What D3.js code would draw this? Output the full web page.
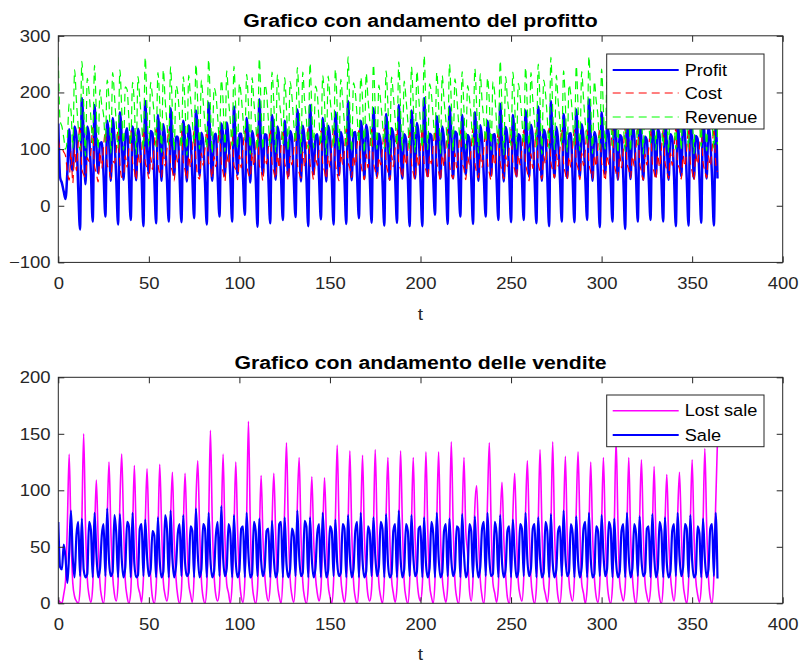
<!DOCTYPE html>
<html>
<head>
<meta charset="utf-8">
<script src="https://cdn.jsdelivr.net/npm/d3@7"></script>
<style>
  body { margin: 0; background: #fff; }
  svg { display: block; font-family: "Liberation Sans", Arial, sans-serif; }
</style>
</head>
<body>
<svg id="chart" width="802" height="664"></svg>
<script>
// days 0..364, one value per day (one week per row)
const days = d3.range(0, 365);

const profit = [
  145, 50, 40, 25, 12, 60, 135,
  73, 62, 140, 123, 30, -42, 190,
  125, 38, 140, 122, 60, -28, 178,
  107, 58, 110, 112, 55, -19, 150,
  121, 44, 155, 120, 47, -33, 165,
  122, 46, 122, 137, 50, -25, 140,
  116, 45, 136, 116, 52, -36, 185,
  104, 57, 132, 128, 50, -31, 160,
  125, 44, 144, 116, 46, -28, 172,
  107, 54, 122, 122, 50, -29, 150,
  113, 43, 142, 122, 53, -22, 168,
  128, 53, 129, 113, 42, -33, 182,
  106, 44, 121, 127, 51, -19, 145,
  125, 53, 147, 115, 50, -28, 175,
  105, 55, 127, 127, 50, -16, 155,
  121, 41, 132, 113, 49, -37, 188,
  111, 55, 126, 125, 49, -31, 160,
  121, 46, 140, 121, 51, -25, 150,
  106, 52, 132, 121, 49, -20, 170,
  121, 43, 141, 116, 51, -36, 178,
  104, 56, 121, 126, 49, -24, 155,
  122, 43, 141, 123, 51, -33, 165,
  118, 54, 130, 113, 48, -32, 185,
  104, 45, 128, 130, 51, -22, 150,
  127, 47, 143, 122, 51, -30, 172,
  110, 52, 127, 112, 46, -35, 162,
  118, 46, 137, 126, 51, -30, 178,
  105, 48, 126, 117, 51, -36, 168,
  123, 48, 146, 124, 45, -36, 190,
  111, 52, 127, 124, 51, -16, 158,
  116, 48, 140, 116, 51, -32, 175,
  126, 48, 131, 127, 49, -19, 160,
  103, 55, 125, 117, 51, -32, 165,
  116, 44, 142, 117, 49, -19, 150,
  126, 53, 125, 126, 48, -25, 180,
  109, 43, 139, 120, 53, -29, 160,
  115, 52, 126, 121, 51, -25, 168,
  114, 51, 143, 121, 48, -31, 175,
  124, 44, 134, 125, 52, -36, 185,
  107, 50, 139, 114, 49, -28, 162,
  121, 49, 127, 128, 51, -29, 170,
  109, 51, 144, 119, 48, -25, 188,
  121, 44, 130, 117, 53, -38, 165,
  107, 56, 140, 125, 50, -28, 178,
  125, 46, 125, 121, 49, -41, 160,
  108, 47, 144, 125, 52, -28, 172,
  116, 46, 122, 115, 50, -25, 155,
  121, 52, 136, 125, 49, -28, 168,
  111, 46, 126, 118, 52, -36, 158,
  105, 52, 145, 127, 49, -35, 175,
  122, 48, 123, 118, 51, -30, 162,
  114, 48, 140, 117, 49, -35, 150,
  48
];

const cost = [
  117, 100, 100, 95, 88, 60, 45,
  95, 40, 100, 62, 110, 140, 65,
  55, 50, 85, 78, 95, 138, 70,
  58, 42, 95, 66, 105, 131, 72,
  64, 48, 80, 75, 98, 135, 75,
  50, 52, 88, 68, 102, 133, 78,
  62, 45, 92, 72, 96, 136, 77,
  66, 48, 86, 64, 108, 135, 75,
  57, 50, 96, 70, 100, 135, 73,
  61, 44, 90, 76, 104, 132, 78,
  63, 46, 88, 68, 97, 132, 82,
  52, 47, 93, 71, 101, 134, 76,
  68, 49, 87, 69, 106, 133, 77,
  59, 43, 91, 73, 99, 134, 71,
  64, 46, 89, 67, 103, 132, 77,
  56, 50, 94, 70, 98, 136, 72,
  62, 44, 88, 74, 102, 135, 76,
  60, 48, 92, 66, 105, 134, 76,
  65, 45, 87, 72, 97, 132, 74,
  58, 49, 95, 69, 101, 137, 74,
  63, 46, 90, 71, 100, 132, 75,
  61, 47, 88, 68, 104, 136, 76,
  57, 44, 93, 73, 96, 136, 78,
  66, 50, 89, 70, 107, 133, 77,
  59, 46, 91, 67, 99, 135, 77,
  62, 48, 86, 72, 101, 136, 76,
  60, 45, 90, 69, 102, 136, 76,
  64, 49, 94, 71, 98, 136, 77,
  58, 46, 92, 68, 100, 138, 75,
  63, 47, 88, 74, 105, 133, 78,
  61, 44, 90, 70, 100, 135, 75,
  56, 48, 93, 67, 99, 133, 77,
  65, 46, 87, 73, 103, 136, 77,
  60, 49, 91, 68, 101, 132, 76,
  58, 45, 94, 71, 98, 134, 76,
  62, 47, 89, 69, 104, 135, 76,
  64, 48, 90, 72, 101, 133, 76,
  59, 44, 92, 66, 99, 135, 75,
  61, 47, 88, 74, 103, 137, 77,
  63, 49, 91, 70, 100, 135, 76,
  57, 45, 87, 68, 102, 134, 77,
  66, 46, 93, 71, 98, 135, 76,
  60, 48, 90, 69, 105, 137, 76,
  62, 44, 89, 73, 101, 134, 75,
  58, 47, 92, 67, 99, 137, 76,
  64, 49, 88, 70, 102, 135, 76,
  61, 45, 91, 72, 100, 134, 76,
  59, 46, 90, 68, 98, 134, 77,
  63, 48, 93, 71, 104, 136, 75,
  65, 47, 89, 69, 100, 137, 77,
  60, 44, 92, 73, 102, 135, 77,
  62, 49, 88, 70, 99, 136, 76,
  60
];

const revenue = [
  262, 150, 140, 120, 100, 120, 180,
  168, 102, 240, 185, 140, 98, 255,
  180, 88, 225, 200, 155, 110, 248,
  165, 100, 205, 178, 160, 112, 222,
  185, 92, 235, 195, 145, 102, 240,
  172, 98, 210, 205, 152, 108, 218,
  178, 90, 228, 188, 148, 100, 262,
  170, 105, 218, 192, 158, 104, 235,
  182, 94, 240, 186, 146, 107, 245,
  168, 98, 212, 198, 154, 103, 228,
  176, 89, 230, 190, 150, 110, 250,
  180, 100, 222, 184, 143, 101, 258,
  174, 93, 208, 196, 157, 114, 222,
  184, 96, 238, 188, 149, 106, 246,
  169, 101, 216, 194, 153, 116, 232,
  177, 91, 226, 183, 147, 99, 260,
  173, 99, 214, 199, 151, 104, 236,
  181, 94, 232, 187, 156, 109, 226,
  171, 97, 219, 193, 146, 112, 244,
  179, 92, 236, 185, 152, 101, 252,
  167, 102, 211, 197, 149, 108, 230,
  183, 90, 229, 191, 155, 103, 241,
  175, 98, 223, 186, 144, 104, 263,
  170, 95, 217, 200, 158, 111, 227,
  186, 93, 234, 189, 150, 105, 249,
  172, 100, 213, 184, 147, 101, 238,
  178, 91, 227, 195, 153, 106, 254,
  169, 97, 220, 188, 149, 100, 245,
  181, 94, 238, 192, 145, 102, 265,
  174, 99, 215, 198, 156, 117, 236,
  177, 92, 230, 186, 151, 103, 250,
  182, 96, 224, 194, 148, 114, 237,
  168, 101, 212, 190, 154, 104, 242,
  176, 93, 233, 185, 150, 113, 226,
  184, 98, 219, 197, 146, 109, 256,
  171, 90, 228, 189, 157, 106, 236,
  179, 100, 216, 193, 152, 108, 244,
  173, 95, 235, 187, 147, 104, 250,
  185, 91, 222, 199, 155, 101, 262,
  170, 99, 230, 184, 149, 107, 238,
  178, 94, 214, 196, 153, 105, 247,
  175, 97, 237, 190, 146, 110, 264,
  181, 92, 220, 186, 158, 99, 241,
  169, 100, 229, 198, 151, 106, 253,
  183, 93, 217, 188, 148, 96, 236,
  172, 96, 232, 195, 154, 107, 248,
  177, 91, 213, 187, 150, 109, 231,
  180, 98, 226, 193, 147, 106, 245,
  174, 94, 219, 189, 156, 100, 233,
  170, 99, 234, 196, 149, 102, 252,
  182, 92, 215, 191, 153, 105, 239,
  176, 97, 228, 187, 148, 101, 226,
  108
];

const lostSale = [
  3, 1, 0, 8, 20, 70, 132,
  62, 18, 6, 2, 0, 12, 72,
  150, 70, 22, 7, 1, 15, 60,
  109, 58, 18, 5, 0, 20, 75,
  125, 66, 25, 8, 2, 18, 88,
  132, 72, 20, 6, 0, 10, 62,
  122, 60, 16, 9, 1, 22, 70,
  119, 64, 24, 5, 0, 14, 58,
  123, 70, 19, 7, 2, 16, 74,
  116, 56, 22, 6, 0, 12, 66,
  115, 62, 18, 8, 1, 25, 90,
  126, 68, 21, 5, 0, 15, 70,
  153, 74, 26, 7, 2, 12, 68,
  132, 60, 17, 9, 0, 18, 64,
  125, 65, 23, 6, 1, 20, 76,
  161, 72, 20, 5, 0, 13, 60,
  113, 58, 25, 8, 2, 16, 70,
  115, 63, 18, 6, 0, 24, 85,
  142, 70, 22, 7, 1, 22, 87,
  129, 61, 19, 5, 0, 14, 66,
  112, 57, 24, 9, 2, 12, 60,
  111, 64, 17, 6, 0, 19, 74,
  140, 71, 23, 8, 1, 15, 68,
  135, 66, 20, 5, 0, 17, 72,
  131, 60, 26, 7, 2, 13, 64,
  136, 68, 18, 6, 0, 21, 78,
  129, 62, 22, 9, 1, 14, 62,
  135, 70, 19, 5, 0, 18, 70,
  129, 59, 24, 7, 2, 16, 66,
  134, 66, 17, 6, 0, 20, 74,
  134, 63, 23, 8, 1, 15, 68,
  143, 72, 20, 5, 0, 17, 72,
  129, 64, 45, 12, 2, 22, 85,
  104, 60, 21, 6, 0, 24, 90,
  142, 70, 18, 9, 1, 15, 72,
  107, 58, 25, 5, 0, 20, 78,
  115, 62, 19, 7, 2, 22, 80,
  126, 67, 22, 6, 0, 14, 70,
  136, 71, 17, 8, 1, 16, 66,
  143, 65, 24, 5, 0, 19, 74,
  130, 60, 20, 7, 2, 23, 82,
  134, 69, 18, 9, 0, 13, 64,
  125, 62, 23, 6, 1, 17, 70,
  129, 66, 21, 5, 0, 15, 68,
  145, 73, 19, 8, 2, 14, 66,
  129, 61, 24, 6, 0, 20, 76,
  127, 64, 18, 7, 1, 12, 62,
  121, 58, 22, 5, 0, 16, 70,
  114, 60, 25, 9, 2, 21, 78,
  116, 65, 19, 6, 0, 18, 72,
  127, 62, 21, 8, 1, 14, 68,
  137, 70, 23, 5, 0, 24, 88,
  145
];

const sale = [
  72, 32, 30, 52, 40, 18, 45,
  82, 40, 23, 60, 72, 24, 75,
  30, 23, 26, 72, 65, 23, 80,
  45, 23, 30, 60, 70, 24, 84,
  38, 24, 28, 78, 62, 23, 79,
  40, 23, 32, 72, 68, 23, 80,
  35, 23, 25, 66, 70, 24, 74,
  42, 24, 30, 64, 60, 23, 76,
  38, 23, 28, 78, 66, 23, 82,
  40, 23, 33, 62, 70, 24, 78,
  36, 24, 27, 68, 64, 23, 84,
  44, 23, 30, 70, 66, 23, 80,
  39, 23, 28, 60, 72, 24, 86,
  41, 24, 31, 70, 62, 23, 78,
  37, 23, 29, 66, 68, 23, 80,
  43, 23, 26, 72, 64, 24, 75,
  38, 24, 32, 64, 66, 23, 73,
  40, 23, 28, 70, 72, 23, 76,
  35, 23, 30, 66, 60, 24, 82,
  42, 24, 27, 73, 68, 23, 76,
  39, 23, 31, 62, 70, 23, 80,
  44, 23, 29, 68, 64, 24, 74,
  36, 24, 27, 70, 66, 23, 78,
  41, 23, 30, 64, 72, 23, 80,
  38, 23, 28, 68, 62, 24, 76,
  43, 24, 32, 72, 66, 23, 79,
  37, 23, 26, 64, 70, 23, 82,
  40, 23, 30, 70, 64, 24, 78,
  42, 24, 28, 66, 68, 23, 76,
  36, 23, 31, 72, 62, 23, 80,
  41, 23, 27, 64, 70, 24, 75,
  39, 24, 30, 68, 66, 23, 79,
  44, 23, 28, 70, 64, 23, 77,
  38, 23, 32, 66, 72, 24, 80,
  40, 24, 26, 72, 62, 23, 78,
  37, 23, 30, 64, 68, 23, 74,
  43, 23, 28, 70, 66, 24, 80,
  39, 24, 31, 66, 70, 23, 76,
  41, 23, 27, 72, 64, 23, 79,
  36, 23, 30, 64, 68, 24, 82,
  42, 24, 28, 70, 62, 23, 77,
  38, 23, 32, 66, 72, 23, 80,
  40, 23, 26, 68, 64, 24, 78,
  44, 24, 30, 72, 66, 23, 75,
  37, 23, 28, 64, 70, 23, 80,
  41, 23, 31, 70, 62, 24, 77,
  39, 24, 27, 66, 68, 23, 79,
  43, 23, 30, 72, 64, 23, 76,
  36, 23, 28, 64, 70, 24, 80,
  42, 24, 32, 70, 66, 23, 78,
  38, 23, 26, 68, 62, 23, 75,
  40, 23, 30, 66, 70, 24, 80,
  22
];

const xTicks = [0, 50, 100, 150, 200, 250, 300, 350, 400];
const profitTicks = [-100, 0, 100, 200, 300];
const salesTicks = [0, 50, 100, 150, 200];

const svg = d3.select('#chart');
const axisColor = '#262626';

const xScale = d3.scaleLinear().domain([0, 400]).range([58.3, 782.7]);

function drawPanel(cfg) {
  const g = svg.append('g');
  const yScale = d3.scaleLinear().domain(cfg.domain).range([cfg.bottom, cfg.top]);
  const [x0, x1] = xScale.range();

  // clip area
  g.append('clipPath').attr('id', cfg.id)
    .append('rect')
    .attr('x', x0).attr('y', cfg.top)
    .attr('width', x1 - x0).attr('height', cfg.bottom - cfg.top);

  // series
  const line = d3.line()
    .curve(d3.curveMonotoneX)
    .x((d, i) => xScale(days[i]))
    .y((d) => yScale(d));

  const lines = g.append('g').attr('clip-path', `url(#${cfg.id})`);
  cfg.series.forEach((s) => {
    lines.append('path')
      .datum(s.values)
      .attr('d', line)
      .attr('fill', 'none')
      .attr('stroke', s.color)
      .attr('stroke-width', s.width)
      .attr('stroke-dasharray', s.dash || null)
      .attr('stroke-linejoin', 'round');
  });

  // x axis (bottom, with labels)
  const gx = g.append('g')
    .attr('transform', `translate(0,${cfg.bottom})`)
    .call(d3.axisBottom(xScale).tickValues(xTicks).tickSize(-6).tickSizeOuter(0).tickPadding(15));
  // y axis (left, with labels)
  const gy = g.append('g')
    .attr('transform', `translate(${x0},0)`)
    .call(d3.axisLeft(yScale).tickValues(cfg.ticks).tickSize(-6).tickSizeOuter(0).tickPadding(7));
  // mirrored ticks (top and right)
  const gt = g.append('g')
    .attr('transform', `translate(0,${cfg.top})`)
    .call(d3.axisTop(xScale).tickValues(xTicks).tickSize(-6).tickSizeOuter(0).tickFormat(''));
  const gr = g.append('g')
    .attr('transform', `translate(${x1},0)`)
    .call(d3.axisRight(yScale).tickValues(cfg.ticks).tickSize(-6).tickSizeOuter(0).tickFormat(''));

  [gx, gy, gt, gr].forEach((a) => {
    a.select('.domain').remove();
    a.selectAll('line').attr('stroke', axisColor);
    a.selectAll('text')
      .attr('fill', axisColor)
      .style('font-size', '16.5px')
      .attr('transform', 'scale(1.12,1)');
  });

  // box
  g.append('rect')
    .attr('x', x0).attr('y', cfg.top)
    .attr('width', x1 - x0).attr('height', cfg.bottom - cfg.top)
    .attr('fill', 'none')
    .attr('stroke', axisColor)
    .attr('stroke-width', 1);

  // title
  const cx = (x0 + x1) / 2;
  g.append('text')
    .attr('transform', `translate(${cx},${cfg.titleY}) scale(1.15,1)`)
    .attr('text-anchor', 'middle')
    .style('font-size', '18.5px')
    .style('font-weight', 'bold')
    .attr('fill', '#000')
    .text(cfg.title);

  // x label
  g.append('text')
    .attr('transform', `translate(${cx},${cfg.xlabelY}) scale(1.12,1)`)
    .attr('text-anchor', 'middle')
    .style('font-size', '17px')
    .attr('fill', axisColor)
    .text('t');

  // legend
  const lg = g.append('g');
  lg.append('rect')
    .attr('x', cfg.legend.x).attr('y', cfg.legend.y)
    .attr('width', cfg.legend.w).attr('height', cfg.legend.h)
    .attr('fill', '#fff')
    .attr('stroke', axisColor)
    .attr('stroke-width', 1);
  cfg.series.forEach((s, i) => {
    const yy = cfg.legend.rows[i];
    lg.append('line')
      .attr('x1', cfg.legend.x + 6).attr('x2', cfg.legend.x + 72)
      .attr('y1', yy).attr('y2', yy)
      .attr('stroke', s.color)
      .attr('stroke-width', Math.min(s.width, 2))
      .attr('stroke-dasharray', s.dash || null);
    lg.append('text')
      .attr('transform', `translate(${cfg.legend.x + 78},${yy}) scale(1.1,1)`)
      .attr('dy', '0.35em')
      .style('font-size', '16.5px')
      .attr('fill', '#000')
      .text(s.label);
  });
}

drawPanel({
  id: 'clip-top',
  top: 35.8,
  bottom: 262.4,
  domain: [-100, 300],
  ticks: profitTicks,
  title: 'Grafico con andamento del profitto',
  titleY: 27,
  xlabelY: 320,
  legend: { x: 606.7, y: 54, w: 157.3, h: 75, rows: [70, 93, 117] },
  series: [
    { label: 'Profit', values: profit, color: '#0000ff', width: 2.5 },
    { label: 'Cost', values: cost, color: '#ff0000', width: 1.2, dash: '8,5' },
    { label: 'Revenue', values: revenue, color: '#00ff00', width: 1.2, dash: '8,5' }
  ]
});

drawPanel({
  id: 'clip-bottom',
  top: 377.3,
  bottom: 603.3,
  domain: [0, 200],
  ticks: salesTicks,
  title: 'Grafico con andamento delle vendite',
  titleY: 369,
  xlabelY: 660,
  legend: { x: 606.7, y: 395, w: 157.3, h: 51.7, rows: [410.7, 435] },
  series: [
    { label: 'Lost sale', values: lostSale, color: '#ff00ff', width: 1.6 },
    { label: 'Sale', values: sale, color: '#0000ff', width: 2.2 }
  ]
});
</script>
</body>
</html>
